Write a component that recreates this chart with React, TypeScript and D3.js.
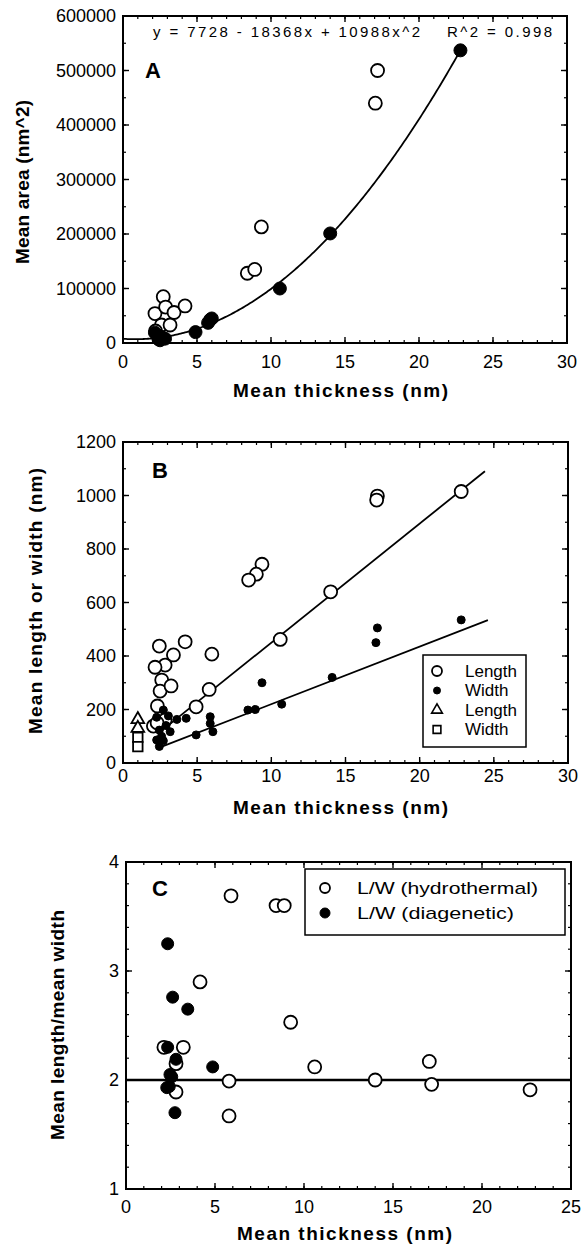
import React from 'react';
import * as d3 from 'd3';

const FONT = "'Liberation Sans', Arial, Helvetica, sans-serif";

// ---------- Panel A data ----------
const aHydro: [number, number][] = [
  [17.2, 500000], [17.05, 440000], [9.35, 213000], [8.4, 128000], [8.9, 135000],
  [2.72, 85000], [2.16, 54000], [2.88, 66000], [3.45, 56000], [4.19, 68000],
  [2.6, 33000], [3.18, 33000], [2.2, 22000],
];
const aDiag: [number, number][] = [
  [22.8, 537000], [14.0, 201000], [10.6, 100000], [5.75, 37000], [5.9, 43000],
  [6.0, 45000], [4.9, 20000], [2.16, 19000], [2.6, 11000], [2.84, 8000],
  [2.4, 7000], [2.5, 5000],
];
const aFitCoef = [7728, -1837, 1099];
const aFitRange = [0, 22.8];
const aXTicks = [0, 5, 10, 15, 20, 25, 30];
const aYTicks = [0, 100000, 200000, 300000, 400000, 500000, 600000];

// ---------- Panel B data ----------
const bLength: [number, number][] = [
  [22.8, 1015], [17.15, 998], [17.1, 983], [14.0, 640], [10.6, 462], [9.37, 743],
  [8.99, 706], [8.47, 684], [5.99, 407], [5.81, 275], [4.93, 210], [4.19, 453],
  [3.4, 404], [2.45, 437], [2.84, 366], [2.16, 358], [2.61, 310], [2.5, 269],
  [3.24, 288], [2.32, 213], [2.84, 161], [2.05, 138], [2.3, 150],
];
const bWidth: [number, number][] = [
  [22.8, 535], [17.15, 505], [17.05, 450], [14.1, 320], [10.7, 220], [9.37, 300],
  [8.92, 200], [8.42, 198], [6.06, 117], [5.88, 148], [5.88, 173], [4.93, 105],
  [4.26, 167], [3.63, 163], [3.06, 176], [2.72, 198], [2.27, 171], [3.18, 117],
  [2.45, 123], [2.27, 86], [2.72, 83], [2.45, 62], [2.6, 100], [2.9, 140],
];
const bLength2: [number, number][] = [[1.0, 163], [1.0, 130]];
const bWidth2: [number, number][] = [[1.0, 96], [1.0, 61]];
const bLengthFit = { a: 5, b: 44.5, x0: 2.4, x1: 24.4 };
const bWidthFit = { a: 5, b: 21.5, x0: 2.4, x1: 24.6 };
const bXTicks = [0, 5, 10, 15, 20, 25, 30];
const bYTicks = [0, 200, 400, 600, 800, 1000, 1200];
const bLegend = ['Length', 'Width', 'Length', 'Width'];

// ---------- Panel C data ----------
const cHydro: [number, number][] = [
  [5.9, 3.69], [8.43, 3.6], [8.89, 3.6], [4.16, 2.9], [9.25, 2.53], [2.13, 2.3],
  [3.22, 2.3], [2.81, 2.15], [10.6, 2.12], [5.79, 1.99], [2.81, 1.89], [5.79, 1.67],
  [14.0, 2.0], [17.04, 2.17], [17.17, 1.96], [22.7, 1.91],
];
const cDiag: [number, number][] = [
  [2.34, 3.25], [2.62, 2.76], [3.47, 2.65], [2.34, 2.3], [2.81, 2.19], [4.87, 2.12],
  [2.47, 2.05], [2.57, 2.03], [2.29, 1.93], [2.43, 1.94], [2.75, 1.7],
];
const cRefLine = 2;
const cXTicks = [0, 5, 10, 15, 20, 25];
const cYTicks = [1, 2, 3, 4];
const cLegend = ['L/W (hydrothermal)', 'L/W (diagenetic)'];

type Lin = d3.ScaleLinear<number, number>;

function Frame(props: {
  x: Lin; y: Lin; xTicks: number[]; xMinorStep: number; yTicks: number[]; yMinorStep: number;
  xLabelY: number; yLabelX: number;
}) {
  const { x, y, xTicks, xMinorStep, yTicks, yMinorStep, xLabelY, yLabelX } = props;
  const [x0, x1] = x.range();
  const [yb, yt] = y.range();
  const xd = x.domain();
  const yd = y.domain();
  const xMinor = d3.range(xd[0], xd[1] + 1e-9, xMinorStep);
  const yMinor = d3.range(yd[0], yd[1] + 1e-9, yMinorStep);
  const MJ = 6, MN = 3;
  return (
    <g>
      {xMinor.map((v, i) => (
        <g key={'xm' + i} stroke="#000" strokeWidth={1.2}>
          <line x1={x(v)} x2={x(v)} y1={yb} y2={yb - MN} />
          <line x1={x(v)} x2={x(v)} y1={yt} y2={yt + MN} />
        </g>
      ))}
      {xTicks.map((v, i) => (
        <g key={'xM' + i} stroke="#000" strokeWidth={1.4}>
          <line x1={x(v)} x2={x(v)} y1={yb} y2={yb - MJ} />
          <line x1={x(v)} x2={x(v)} y1={yt} y2={yt + MJ} />
        </g>
      ))}
      {yMinor.map((v, i) => (
        <g key={'ym' + i} stroke="#000" strokeWidth={1.2}>
          <line x1={x0} x2={x0 + MN} y1={y(v)} y2={y(v)} />
          <line x1={x1} x2={x1 - MN} y1={y(v)} y2={y(v)} />
        </g>
      ))}
      {yTicks.map((v, i) => (
        <g key={'yM' + i} stroke="#000" strokeWidth={1.4}>
          <line x1={x0} x2={x0 + MJ} y1={y(v)} y2={y(v)} />
          <line x1={x1} x2={x1 - MJ} y1={y(v)} y2={y(v)} />
        </g>
      ))}
      <rect x={x0} y={yt} width={x1 - x0} height={yb - yt} fill="none" stroke="#000" strokeWidth={2} />
      {xTicks.map((v, i) => (
        <text key={'xl' + i} x={x(v)} y={xLabelY} textAnchor="middle" fontSize={18} fontFamily={FONT}>{v}</text>
      ))}
      {yTicks.map((v, i) => (
        <text key={'yl' + i} x={yLabelX} y={y(v) + 6} textAnchor="end" fontSize={18} fontFamily={FONT}>{v}</text>
      ))}
    </g>
  );
}

const Hollow = ({ cx, cy, r }: { cx: number; cy: number; r: number }) => (
  <circle cx={cx} cy={cy} r={r} fill="#fff" stroke="#000" strokeWidth={1.8} />
);
const Filled = ({ cx, cy, r }: { cx: number; cy: number; r: number }) => (
  <circle cx={cx} cy={cy} r={r} fill="#000" stroke="#000" strokeWidth={1} />
);

function XTitle({ cx, y }: { cx: number; y: number }) {
  return (
    <text x={cx - 107} y={y} fontSize={19} fontWeight="bold" fontFamily={FONT} textLength={215} lengthAdjust="spacing">
      Mean thickness (nm)
    </text>
  );
}
function YTitle({ x, cy, len, label }: { x: number; cy: number; len: number; label: string }) {
  return (
    <text transform={`translate(${x},${cy + len / 2}) rotate(-90)`} fontSize={19} fontWeight="bold" fontFamily={FONT}
      textLength={len} lengthAdjust="spacing">{label}</text>
  );
}

export default function App() {
  // Panel A
  const xA = d3.scaleLinear().domain([0, 30]).range([123, 567]);
  const yA = d3.scaleLinear().domain([0, 600000]).range([343, 16]);
  const fitPts = d3.range(aFitRange[0], aFitRange[1] + 1e-9, 0.1).map((v) => [v, aFitCoef[0] + aFitCoef[1] * v + aFitCoef[2] * v * v] as [number, number]);
  const lineA = d3.line<[number, number]>().x((d) => xA(d[0])).y((d) => yA(d[1]));

  // Panel B
  const xB = d3.scaleLinear().domain([0, 30]).range([123, 568]);
  const yB = d3.scaleLinear().domain([0, 1200]).range([763, 442]);

  // Panel C
  const xC = d3.scaleLinear().domain([0, 25]).range([126, 571]);
  const yC = d3.scaleLinear().domain([1, 4]).range([1189, 862]);

  const tri = d3.symbol().type(d3.symbolTriangle).size(70)();
  const sq = d3.symbol().type(d3.symbolSquare).size(90)();

  return (
    <svg width={584} height={1249} style={{ position: 'absolute', left: 0, top: 0, background: '#fff' }}>
      <rect x={0} y={0} width={584} height={1249} fill="#fff" />

      {/* ===== Panel A ===== */}
      <Frame x={xA} y={yA} xTicks={aXTicks} xMinorStep={1} yTicks={aYTicks} yMinorStep={50000} xLabelY={368} yLabelX={116} />
      <path d={lineA(fitPts) || ''} fill="none" stroke="#000" strokeWidth={1.8} />
      {aHydro.map((d, i) => <Hollow key={'ah' + i} cx={xA(d[0])} cy={yA(d[1])} r={6.5} />)}
      {aDiag.map((d, i) => <Filled key={'ad' + i} cx={xA(d[0])} cy={yA(d[1])} r={6.5} />)}
      <text x={153} y={37} fontSize={15} fontFamily={FONT} textLength={267} lengthAdjust="spacing">y = 7728 - 18368x + 10988x^2</text>
      <text x={447} y={37} fontSize={15} fontFamily={FONT} textLength={105} lengthAdjust="spacing">R^2 = 0.998</text>
      <text x={145} y={78} fontSize={22} fontWeight="bold" fontFamily={FONT}>A</text>
      <XTitle cx={340} y={397} />
      <YTitle x={29} cy={182} len={164} label="Mean area (nm^2)" />

      {/* ===== Panel B ===== */}
      <Frame x={xB} y={yB} xTicks={bXTicks} xMinorStep={1} yTicks={bYTicks} yMinorStep={100} xLabelY={782} yLabelX={116} />
      <line x1={xB(bLengthFit.x0)} y1={yB(bLengthFit.a + bLengthFit.b * bLengthFit.x0)}
        x2={xB(bLengthFit.x1)} y2={yB(bLengthFit.a + bLengthFit.b * bLengthFit.x1)} stroke="#000" strokeWidth={1.8} />
      <line x1={xB(bWidthFit.x0)} y1={yB(bWidthFit.a + bWidthFit.b * bWidthFit.x0)}
        x2={xB(bWidthFit.x1)} y2={yB(bWidthFit.a + bWidthFit.b * bWidthFit.x1)} stroke="#000" strokeWidth={1.8} />
      {bLength.map((d, i) => <Hollow key={'bl' + i} cx={xB(d[0])} cy={yB(d[1])} r={6.5} />)}
      {bWidth.map((d, i) => <Filled key={'bw' + i} cx={xB(d[0])} cy={yB(d[1])} r={4} />)}
      {bLength2.map((d, i) => <path key={'bt' + i} d={tri || ''} transform={`translate(${xB(d[0])},${yB(d[1])})`} fill="#fff" stroke="#000" strokeWidth={1.8} />)}
      {bWidth2.map((d, i) => <path key={'bs' + i} d={sq || ''} transform={`translate(${xB(d[0])},${yB(d[1])})`} fill="#fff" stroke="#000" strokeWidth={1.8} />)}
      <text x={152} y={478} fontSize={22} fontWeight="bold" fontFamily={FONT}>B</text>
      {/* legend B */}
      <rect x={423} y={655} width={103} height={92} fill="#fff" stroke="#000" strokeWidth={1.5} />
      {bLegend.map((t, i) => {
        const cy = 671 + i * 19.5;
        return (
          <g key={'bleg' + i}>
            {i === 0 && <Hollow cx={437} cy={cy} r={5} />}
            {i === 1 && <Filled cx={437} cy={cy} r={3.5} />}
            {i === 2 && <path d={d3.symbol().type(d3.symbolTriangle).size(50)() || ''} transform={`translate(437,${cy})`} fill="#fff" stroke="#000" strokeWidth={1.6} />}
            {i === 3 && <path d={d3.symbol().type(d3.symbolSquare).size(60)() || ''} transform={`translate(437,${cy})`} fill="#fff" stroke="#000" strokeWidth={1.6} />}
            <text x={465} y={cy + 5.5} fontSize={17} fontFamily={FONT}>{t}</text>
          </g>
        );
      })}
      <XTitle cx={340} y={814} />
      <YTitle x={42} cy={601} len={266} label="Mean length or width (nm)" />

      {/* ===== Panel C ===== */}
      <Frame x={xC} y={yC} xTicks={cXTicks} xMinorStep={1} yTicks={cYTicks} yMinorStep={0.2} xLabelY={1213} yLabelX={119} />
      <line x1={xC(0)} x2={xC(25)} y1={yC(cRefLine)} y2={yC(cRefLine)} stroke="#000" strokeWidth={2.5} />
      {cHydro.map((d, i) => <Hollow key={'ch' + i} cx={xC(d[0])} cy={yC(d[1])} r={6.5} />)}
      {cDiag.map((d, i) => <Filled key={'cd' + i} cx={xC(d[0])} cy={yC(d[1])} r={6} />)}
      <text x={152} y={896} fontSize={22} fontWeight="bold" fontFamily={FONT}>C</text>
      <rect x={305} y={869} width={260} height={66} fill="#fff" stroke="#000" strokeWidth={1.5} />
      {cLegend.map((t, i) => {
        const cy = 888 + i * 25;
        return (
          <g key={'cleg' + i}>
            {i === 0 ? <Hollow cx={325} cy={cy} r={5} /> : <Filled cx={325} cy={cy} r={5} />}
            <text x={357} y={cy + 6} fontSize={17} fontFamily={FONT} textLength={i === 0 ? 181 : 157} lengthAdjust="spacingAndGlyphs">{t}</text>
          </g>
        );
      })}
      <XTitle cx={344} y={1240} />
      <YTitle x={64} cy={1025} len={230} label="Mean length/mean width" />
    </svg>
  );
}
